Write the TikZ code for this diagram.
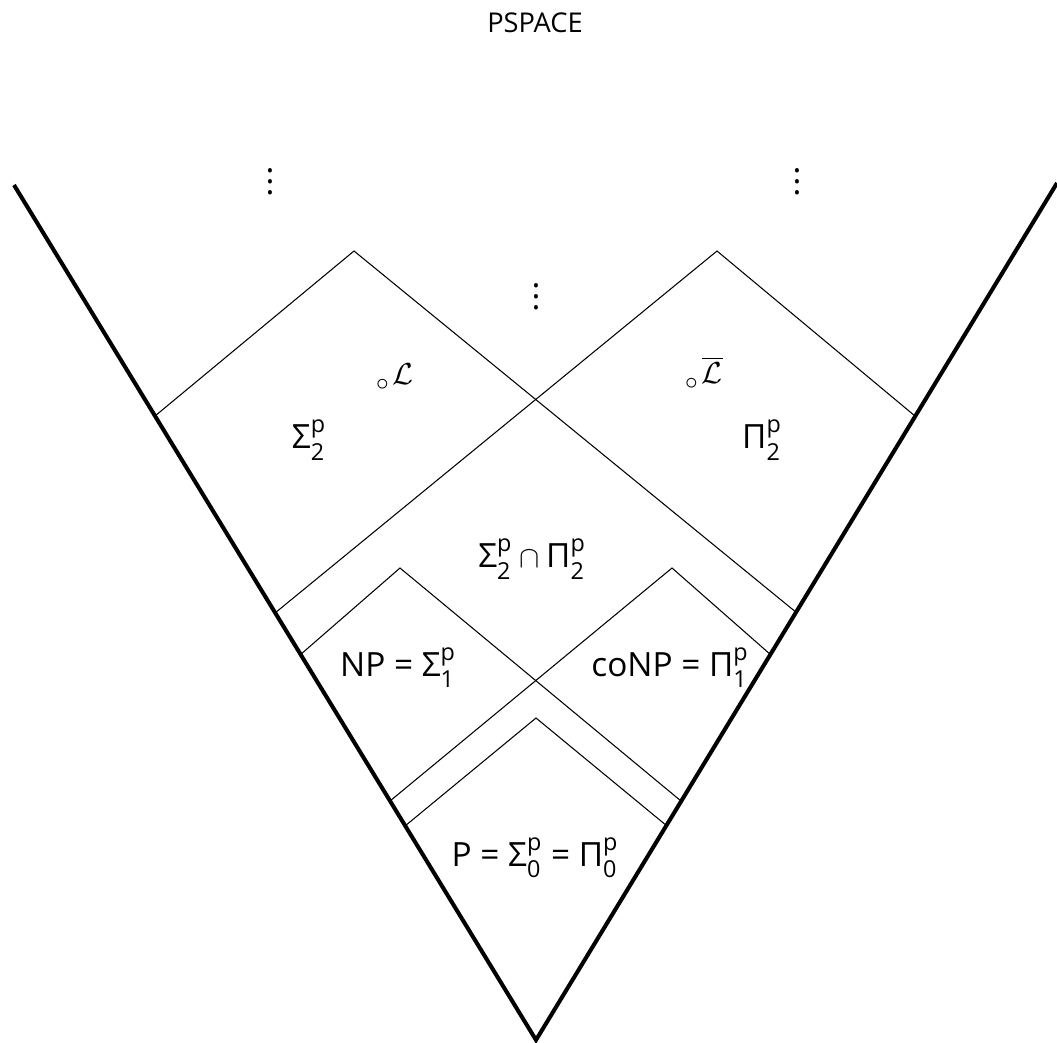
\documentclass[tikz,border=0pt]{standalone}
\usepackage{amsmath}
\usepackage{fontspec}
\setmainfont{Open Sans}
\usetikzlibrary{positioning}

\newcommand{\SigP}[1]{\text{Σ}^{\text{p}}_{\text{#1}}}
\newcommand{\PiP}[1]{\text{Π}^{\text{p}}_{\text{#1}}}
\newcommand{\ring}{\raisebox{-0.35ex}{$\scriptstyle\circ$}\hspace{0.12em}}
\newcommand{\dotsup}{\vbox{\baselineskip6.2pt\lineskiplimit0pt\hbox{.}\hbox{.}\hbox{.}}}

\begin{document}
\begin{tikzpicture}[x=0.02cm,y=-0.02cm,
    cls/.style={inner sep=0pt,font=\fontsize{19}{21}\selectfont},
    rim/.style={line width=2.3pt,line join=miter},
    edge/.style={line width=0.6pt}]
\useasboundingbox (0,0) rectangle (1057,1043);
% the outer cone
\draw[rim] (14,185) -- (536,1040) -- (1057,183);
% the nested levels
\foreach \lx/\ly/\px/\py/\rx/\ry in {155/416/354/251/797/613, 275/613/717/251/915/416,
    300/655/400/568/681/801, 390/801/672/568/771/655, 405/826/536/718/667/826} {
    \draw[edge] (\lx,\ly) -- (\px,\py) -- (\rx,\ry);
}
\node (pspace) at (535,23) [inner sep=0pt,font=\fontsize{15.5}{17}\selectfont] {PSPACE};
\node (dl) at (270,182) [cls] {\dotsup};
\node (dr) at (797,182) [cls] {\dotsup};
\node (dm) at (536,297) [cls] {\dotsup};
\node (lang) at (395,377) [cls] {\ring$\mathcal{L}$};
\node (colang) at (704,373) [cls] {\ring$\overline{\mathcal{L}}$};
\node (sig2) at (309,440) [cls] {$\SigP{2}$};
\node (pi2) at (762,440) [cls] {$\PiP{2}$};
\node (both) at (532,559) [cls] {$\SigP{2}\cap\PiP{2}$};
\node (np) at (398,668) [cls] {NP = $\SigP{1}$};
\node (conp) at (670,668) [cls] {coNP = $\PiP{1}$};
\node (p) at (535,858) [cls] {P = $\SigP{0}$ = $\PiP{0}$};
\end{tikzpicture}
\end{document}
